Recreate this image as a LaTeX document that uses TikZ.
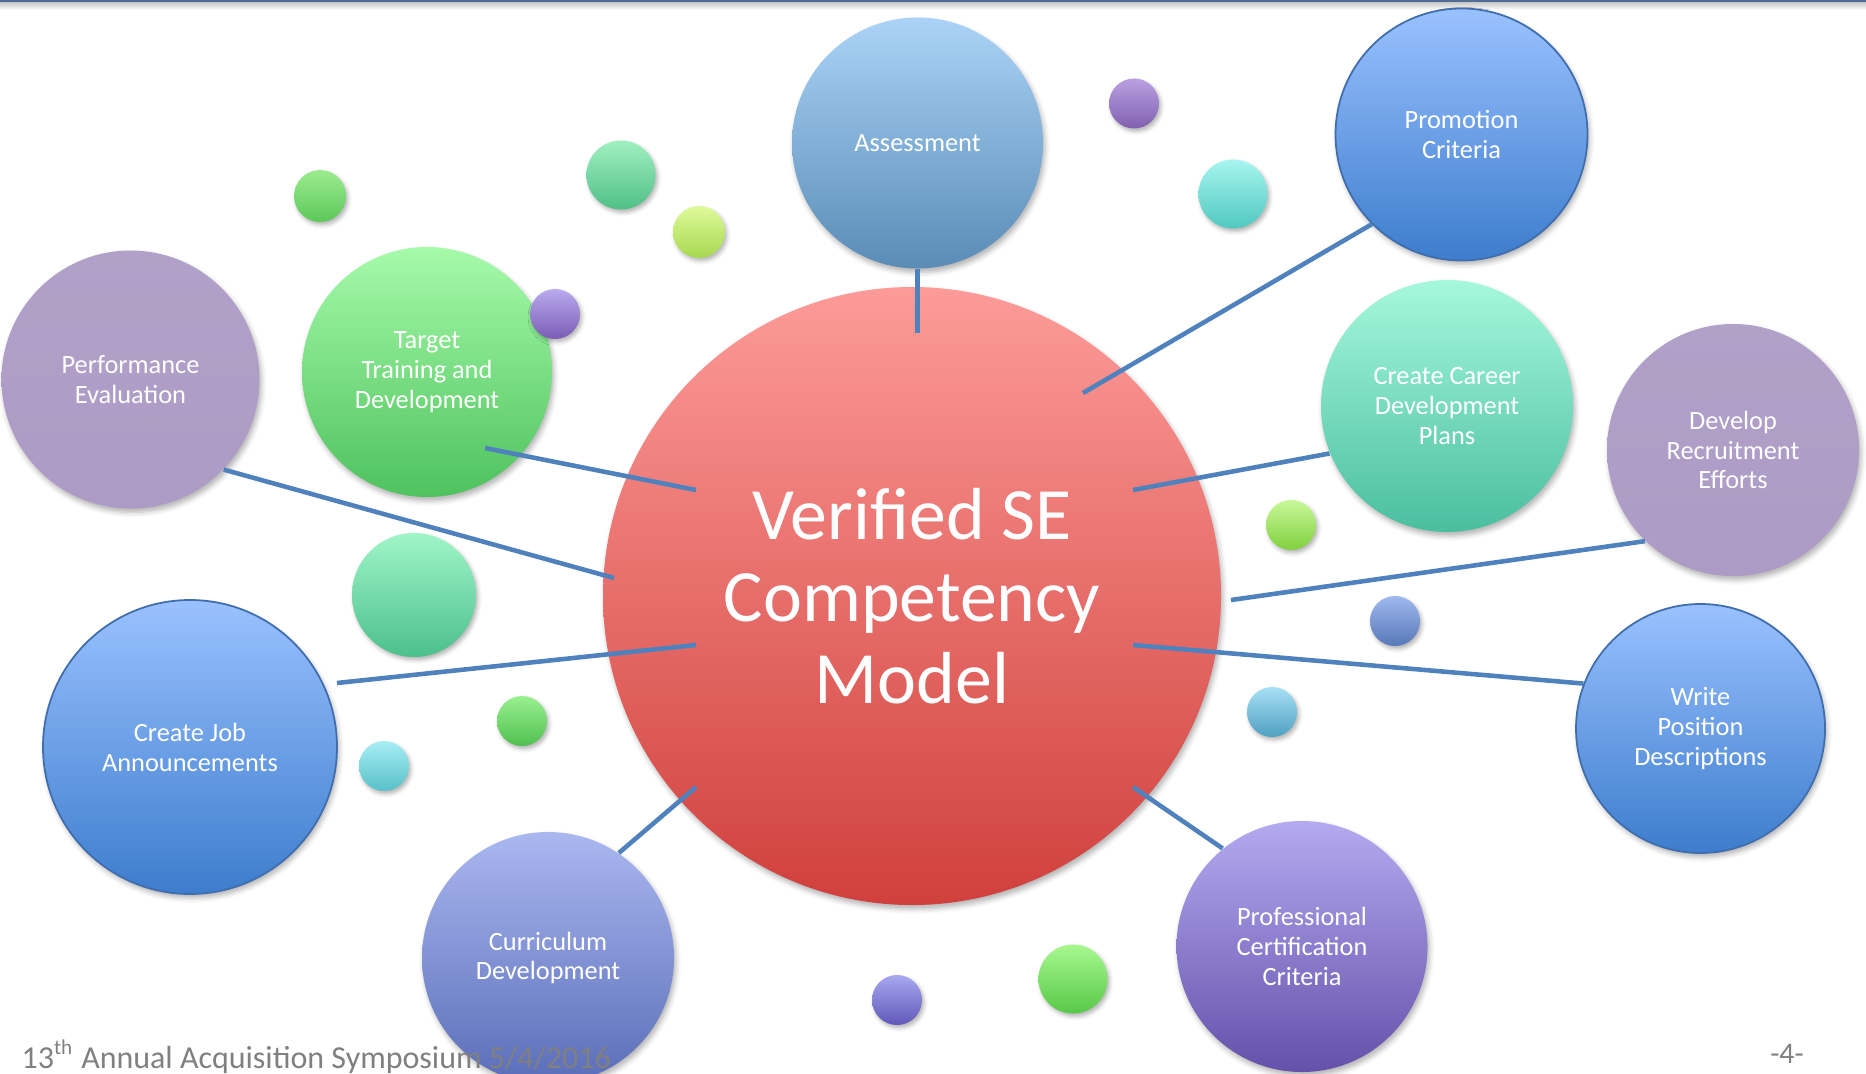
\documentclass[tikz,border=0pt]{standalone}
\usepackage{fontspec}
\setmainfont{Carlito}
\usetikzlibrary{shadows.blur}

%fills, light at the top and dark at the bottom
\definecolor{hubtop}{HTML}{FD9B98}
\definecolor{hubbot}{HTML}{D0403C}
\definecolor{skytop}{HTML}{ABD3F7}
\definecolor{skybot}{HTML}{5A8CB6}
\definecolor{bluetop}{HTML}{9AC1FF}
\definecolor{bluebot}{HTML}{3D7DCD}
\definecolor{rimblue}{HTML}{3F6DAE}
\definecolor{lilac}{HTML}{B1A0C8}
\definecolor{lilacbot}{HTML}{AC9BC4}
\definecolor{greentop}{HTML}{A6FAAA}
\definecolor{greenbot}{HTML}{4FC25E}
\definecolor{minttop}{HTML}{A6F8DC}
\definecolor{mintbot}{HTML}{4BBEA0}
\definecolor{periwtop}{HTML}{AAB8F0}
\definecolor{periwbot}{HTML}{5A6DB8}
\definecolor{violtop}{HTML}{B4AAF0}
\definecolor{violbot}{HTML}{6451AA}
\definecolor{linkblue}{HTML}{4F81BD}
\definecolor{topbar}{HTML}{4F6E96}
\definecolor{footgray}{HTML}{808080}

\begin{document}
\begin{tikzpicture}[
  bubble/.style={circle,inner sep=0pt,minimum size=2.52cm,text=white,align=center,
    font=\fontsize{7.5}{8.5}\selectfont,
    blur shadow={shadow xshift=0.02cm,shadow yshift=-0.04cm,shadow blur radius=0.05cm,shadow opacity=30}},
  dot/.style={circle,inner sep=0pt,minimum size=#1,
    blur shadow={shadow xshift=0.02cm,shadow yshift=-0.03cm,shadow blur radius=0.04cm,shadow opacity=30}},
  rim/.style={draw=rimblue,line width=0.5pt},
  link/.style={linkblue,line width=1.3pt},
  footer/.style={text=footgray,inner sep=0pt,font=\fontsize{9.1}{10}\selectfont}
]
\useasboundingbox (0,0) rectangle (18.66,10.73);

%rule along the top edge
\shade[top color=black!22,bottom color=white] (0,10.63) rectangle (18.66,10.71);
\fill[topbar] (0,10.71) rectangle (18.66,10.73);

%hub
\node[bubble,minimum size=6.18cm,top color=hubtop,bottom color=hubbot,
  font=\fontsize{21}{23.3}\selectfont] (hub) at (9.12,4.77) {Verified SE\\Competency\\Model};

%outer circles
\node[bubble,minimum size=2.51cm,top color=skytop,bottom color=skybot] (assess) at (9.175,9.30) {Assessment};
\node[bubble,rim,top color=bluetop,bottom color=bluebot] (promo) at (14.615,9.385) {Promotion\\Criteria};
\node[bubble,minimum size=2.58cm,top color=lilac,bottom color=lilacbot] (perf) at (1.305,6.935) {Performance\\Evaluation};
\node[bubble,minimum size=2.50cm,top color=greentop,bottom color=greenbot] (target) at (4.27,7.01) {Target\\Training and\\Development};
\node[bubble,top color=minttop,bottom color=mintbot] (career) at (14.47,6.67) {Create Career\\Development\\Plans};
\node[bubble,top color=lilac,bottom color=lilacbot] (recruit) at (17.33,6.23) {Develop\\Recruitment\\Efforts};
\node[bubble,rim,minimum size=2.94cm,top color=bluetop,bottom color=bluebot] (jobs) at (1.90,3.26) {Create Job\\Announcements};
\node[bubble,rim,minimum size=2.49cm,top color=bluetop,bottom color=bluebot] (write) at (17.005,3.445) {Write\\Position\\Descriptions};
\node[bubble,top color=periwtop,bottom color=periwbot] (curric) at (5.48,1.15) {Curriculum\\Development};
\node[bubble,minimum size=2.51cm,top color=violtop,bottom color=violbot] (prof) at (13.02,1.265) {Professional\\Certification\\Criteria};

%small dots
\node[dot=0.52cm,top color={rgb,255:red,157;green,235;blue,143},bottom color={rgb,255:red,92;green,200;blue,90}] (d1) at (3.20,8.77) {};
\node[dot=0.69cm,top color={rgb,255:red,160;green,240;blue,192},bottom color={rgb,255:red,80;green,192;blue,136}] (d2) at (6.21,8.98) {};
\node[dot=0.52cm,top color={rgb,255:red,222;green,250;blue,154},bottom color={rgb,255:red,168;green,216;blue,80}] (d3) at (6.99,8.41) {};
\node[dot=0.50cm,top color={rgb,255:red,186;green,170;blue,238},bottom color={rgb,255:red,122;green,92;blue,181}] (d4) at (5.55,7.59) {};
\node[dot=0.50cm,top color={rgb,255:red,186;green,160;blue,226},bottom color={rgb,255:red,128;green,96;blue,176}] (d5) at (11.34,9.695) {};
\node[dot=0.69cm,top color={rgb,255:red,168;green,245;blue,240},bottom color={rgb,255:red,80;green,200;blue,192}] (d6) at (12.33,8.79) {};
\node[dot=1.24cm,top color={rgb,255:red,160;green,245;blue,200},bottom color={rgb,255:red,76;green,192;blue,140}] (d7) at (4.14,4.78) {};
\node[dot=0.50cm,top color={rgb,255:red,154;green,240;blue,144},bottom color={rgb,255:red,80;green,192;blue,80}] (d8) at (5.22,3.52) {};
\node[dot=0.50cm,top color={rgb,255:red,168;green,238;blue,245},bottom color={rgb,255:red,88;green,192;blue,200}] (d9) at (3.84,3.07) {};
\node[dot=0.50cm,top color={rgb,255:red,200;green,248;blue,152},bottom color={rgb,255:red,128;green,208;blue,64}] (d10) at (12.91,5.48) {};
\node[dot=0.50cm,top color={rgb,255:red,160;green,184;blue,238},bottom color={rgb,255:red,88;green,120;blue,184}] (d11) at (13.95,4.52) {};
\node[dot=0.50cm,top color={rgb,255:red,168;green,224;blue,245},bottom color={rgb,255:red,79;green,160;blue,192}] (d12) at (12.72,3.61) {};
\node[dot=0.50cm,top color={rgb,255:red,168;green,168;blue,240},bottom color={rgb,255:red,96;green,88;blue,184}] (d13) at (8.97,0.73) {};
\node[dot=0.69cm,top color={rgb,255:red,168;green,248;blue,144},bottom color={rgb,255:red,88;green,200;blue,72}] (d14) at (10.73,0.94) {};

%spoke ends inside the hub
\coordinate (h1) at (9.175,7.40);
\coordinate (h2) at (10.83,6.80);
\coordinate (h3) at (6.96,5.83);
\coordinate (h4) at (6.14,4.95);
\coordinate (h5) at (11.33,5.83);
\coordinate (h6) at (12.31,4.73);
\coordinate (h7) at (6.96,4.28);
\coordinate (h8) at (11.33,4.28);
\coordinate (h9) at (6.96,2.86);
\coordinate (h10) at (11.33,2.86);
%spoke ends that stop short of a circle edge
\coordinate (tend) at (4.85,6.25);
\coordinate (jend) at (3.37,3.90);

%spokes
\draw[link] (h1) -- (assess.south);
\draw[link] (h2) -- (promo.225);
\draw[link] (h3) -- (tend);
\draw[link] (h4) -- (perf.-44);
\draw[link] (h5) -- (career.202);
\draw[link] (h6) -- (recruit.226);
\draw[link] (h7) -- (jend);
\draw[link] (h8) -- (write.159);
\draw[link] (h9) -- (curric.56);
\draw[link] (h10) -- (prof.129);

%footer
\node[footer,anchor=base west] (foot) at (0.21,0.05) {13\textsuperscript{\fontsize{6}{6}\selectfont th} Annual Acquisition Symposium 5/4/2016};
\node[footer,anchor=base,font=\fontsize{8.5}{9}\selectfont] (pageno) at (17.87,0.10) {-4-};
\end{tikzpicture}
\end{document}
